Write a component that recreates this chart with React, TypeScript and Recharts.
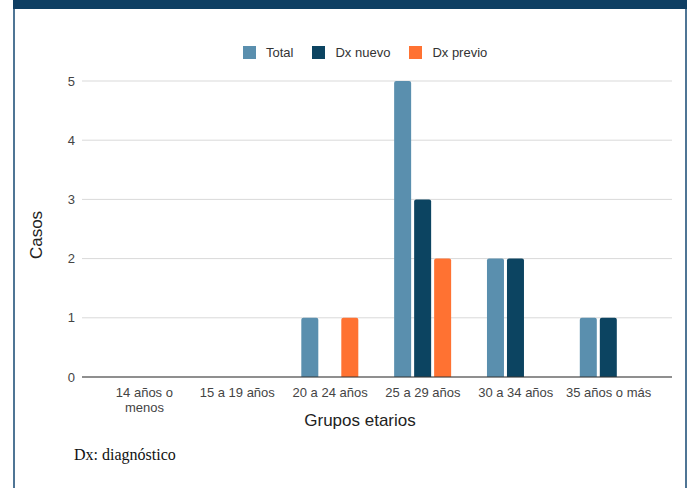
import React from 'react';
import { BarChart, Bar, XAxis, YAxis, CartesianGrid } from 'recharts';

const categories = ['14 años o menos', '15 a 19 años', '20 a 24 años', '25 a 29 años', '30 a 34 años', '35 años o más'];
const total = [0, 0, 1, 5, 2, 1];
const dxNuevo = [0, 0, 0, 3, 2, 1];
const dxPrevio = [0, 0, 1, 2, 0, 0];
const yTicks = [0, 1, 2, 3, 4, 5];

const series = [
  { key: 'total', name: 'Total', color: '#5a8fae' },
  { key: 'dxNuevo', name: 'Dx nuevo', color: '#0c4461' },
  { key: 'dxPrevio', name: 'Dx previo', color: '#ff7232' },
];

const data = categories.map((name, i) => ({
  name,
  total: total[i],
  dxNuevo: dxNuevo[i],
  dxPrevio: dxPrevio[i],
}));

const FONT = 'Arial, "Liberation Sans", sans-serif';

// wrap long labels the way the sheet chart does
const wrap = (s: string, max = 13) => {
  const words = s.split(' ');
  const lines: string[] = [];
  let cur = '';
  words.forEach((w) => {
    const next = cur ? cur + ' ' + w : w;
    if (next.length > max && cur) {
      lines.push(cur);
      cur = w;
    } else {
      cur = next;
    }
  });
  if (cur) lines.push(cur);
  return lines;
};

const XTick = (props: any) => {
  const { x, y, payload } = props;
  const lines = wrap(String(payload.value));
  return (
    <text x={x} y={y} textAnchor="middle" fill="#444" fontSize={13} fontFamily={FONT}>
      {lines.map((l, i) => (
        <tspan key={i} x={x} dy={i === 0 ? 20 : 15}>
          {l}
        </tspan>
      ))}
    </text>
  );
};

const App: React.FC = () => {
  return (
    <div style={{ position: 'fixed', left: 0, top: 0, width: 690, height: 488, background: '#fff', overflow: 'hidden' }}>
      <div style={{ position: 'absolute', left: 13, top: 0, width: 674, height: 9, background: '#0f3f63' }} />
      <div style={{ position: 'absolute', left: 13, top: 9, width: 2, height: 479, background: '#4f7595' }} />
      <div style={{ position: 'absolute', left: 685, top: 9, width: 2, height: 479, background: '#4f7595' }} />

      <div style={{ position: 'absolute', left: 243, top: 46, display: 'flex', alignItems: 'center', fontFamily: FONT, fontSize: 13, color: '#333', lineHeight: '13px' }}>
        {series.map((s, i) => (
          <div key={s.key} style={{ display: 'flex', alignItems: 'center', marginRight: i < series.length - 1 ? 19 : 0 }}>
            <div style={{ width: 13, height: 13, background: s.color, marginRight: 10 }} />
            <span>{s.name}</span>
          </div>
        ))}
      </div>

      <div style={{ position: 'absolute', left: 0, top: 0 }}>
        <BarChart
          width={690}
          height={488}
          data={data}
          margin={{ top: 81, right: 18, bottom: 71, left: 42 }}
          barCategoryGap="19%"
          barGap={3}
        >
          <CartesianGrid vertical={false} stroke="#d9d9d9" />
          <YAxis
            domain={[0, 5]}
            ticks={yTicks}
            width={40}
            axisLine={false}
            tickLine={false}
            tickSize={0}
            tickMargin={7}
            tick={{ fill: '#444', fontSize: 13, fontFamily: FONT }}
          />
          {series.map((s) => (
            <Bar key={s.key} dataKey={s.key} name={s.name} fill={s.color} radius={[2, 2, 0, 0]} isAnimationActive={false} />
          ))}
          <XAxis
            dataKey="name"
            padding={{ left: 16, right: 17 }}
            axisLine={{ stroke: '#333', strokeWidth: 1 }}
            tickLine={false}
            tickSize={0}
            tickMargin={0}
            tick={<XTick />}
            interval={0}
            height={40}
          />
        </BarChart>
      </div>

      <div style={{ position: 'absolute', left: 37, top: 235, transform: 'translate(-50%, -50%) rotate(-90deg)', fontFamily: FONT, fontSize: 17, color: '#222', whiteSpace: 'nowrap' }}>
        Casos
      </div>
      <div style={{ position: 'absolute', left: 360, top: 421, transform: 'translate(-50%, -50%)', fontFamily: FONT, fontSize: 17, color: '#222', whiteSpace: 'nowrap' }}>
        Grupos etarios
      </div>
      <div style={{ position: 'absolute', left: 74, top: 446, fontFamily: '"Liberation Serif", "Times New Roman", serif', fontSize: 16, color: '#111', whiteSpace: 'nowrap' }}>
        Dx: diagnóstico
      </div>
    </div>
  );
};

export default App;
